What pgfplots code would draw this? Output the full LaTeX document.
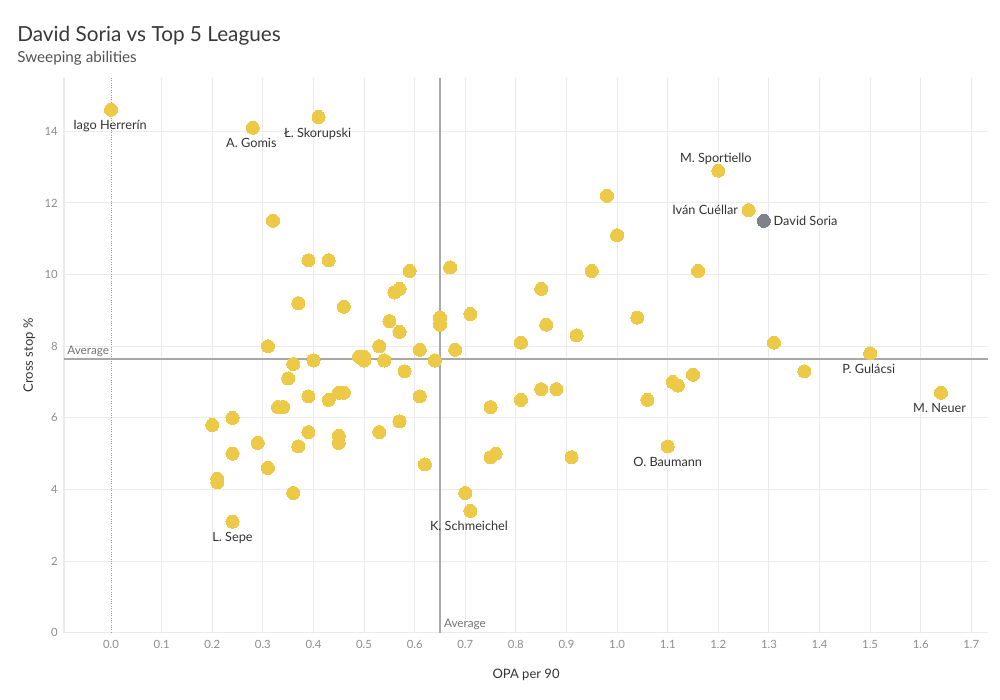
\documentclass[border=0pt]{standalone}
\usepackage{pgfplots}
\pgfplotsset{compat=1.18}
\usepackage{pgfplotstable}
\usepackage{fontspec}
\setmainfont{Lato}

\definecolor{gold}{HTML}{EDC948}
\definecolor{soria}{HTML}{7F8389}
\definecolor{gridc}{HTML}{EBEBEB}
\definecolor{avgc}{HTML}{A8A8A8}
\definecolor{tickc}{HTML}{8C8C8C}
\definecolor{txt}{HTML}{333333}

% goalkeepers in the top 5 leagues
\pgfplotstableread{
x y
0.00 14.6
0.28 14.1
0.41 14.4
0.32 11.5
0.39 10.4
0.43 10.4
0.59 10.1
0.67 10.2
0.56 9.5
0.57 9.6
0.37 9.2
0.46 9.1
0.65 8.8
0.65 8.6
0.71 8.9
0.55 8.7
0.57 8.4
0.31 8.0
0.53 8.0
0.61 7.9
0.68 7.9
0.36 7.5
0.40 7.6
0.49 7.7
0.50 7.7
0.50 7.6
0.54 7.6
0.64 7.6
0.58 7.3
0.35 7.1
0.39 6.6
0.43 6.5
0.45 6.7
0.46 6.7
0.61 6.6
0.33 6.3
0.34 6.3
0.24 6.0
0.20 5.8
0.29 5.3
0.39 5.6
0.37 5.2
0.45 5.5
0.45 5.3
0.53 5.6
0.57 5.9
0.24 5.0
0.31 4.6
0.21 4.3
0.21 4.2
0.62 4.7
0.36 3.9
0.24 3.1
0.70 3.9
0.71 3.4
0.85 9.6
0.86 8.6
0.92 8.3
0.81 8.1
1.04 8.8
0.85 6.8
0.88 6.8
0.81 6.5
0.75 6.3
0.75 4.9
0.76 5.0
0.91 4.9
1.20 12.9
0.98 12.2
1.26 11.8
1.00 11.1
0.95 10.1
1.16 10.1
1.15 7.2
1.11 7.0
1.12 6.9
1.06 6.5
1.10 5.2
1.37 7.3
1.50 7.8
1.64 6.7
1.31 8.1
}\others

\pgfplotstableread{
x y
1.29 11.5
}\soria

\begin{document}
\begin{tikzpicture}
\begin{axis}[
  at={(0,0)}, anchor=south west,
  scale only axis, width=665.3bp, height=399.4bp,
  xmin=-0.093, xmax=1.733, ymin=0, ymax=15.49,
  axis x line*=bottom, axis y line*=left,
  axis line style={gridc, line width=0.8bp},
  major tick length=0pt,
  xtick={0.1,0.2,0.3,0.4,0.5,0.6,0.7,0.8,0.9,1.0,1.1,1.2,1.3,1.4,1.5,1.6,1.7},
  extra x ticks={0},
  extra x tick style={grid style={densely dotted, color=black!40, line width=0.6bp}},
  ytick={0,2,4,6,8,10,12,14},
  grid=major,
  grid style={gridc, line width=0.7bp},
  /pgf/number format/assume math mode=true,
  xticklabel style={font=\fontsize{8.2}{9}\selectfont, text=tickc,
    /pgf/number format/fixed, /pgf/number format/fixed zerofill,
    /pgf/number format/precision=1, yshift=-2bp},
  yticklabel style={font=\fontsize{8.2}{9}\selectfont, text=tickc, xshift=-1bp},
  xlabel={OPA per 90},
  ylabel={Cross stop \%},
  xlabel style={font=\fontsize{9.4}{10}\selectfont, text=txt, yshift=-8bp},
  ylabel style={font=\fontsize{9.4}{10}\selectfont, text=txt, yshift=0bp},
  clip=false,
]
% average lines
\addplot[avgc, line width=1.4bp] coordinates {(-0.093,7.64) (1.733,7.64)};
\addplot[avgc, line width=1.4bp] coordinates {(0.65,0) (0.65,15.49)};
\node[anchor=base west, text=black!55, font=\fontsize{8.5}{9}\selectfont, inner sep=0pt,
  xshift=2.2bp, yshift=3.6bp] at (axis cs:-0.093,7.64) {Average};
\node[anchor=base west, text=black!55, font=\fontsize{8.5}{9}\selectfont, inner sep=0pt,
  xshift=2.7bp, yshift=3.9bp] at (axis cs:0.65,0) {Average};

\addplot[only marks, mark=*, mark size=4.7bp, mark options={draw=gold, fill=gold, line width=0pt}] table {\others};
\addplot[only marks, mark=*, mark size=4.7bp, mark options={draw=soria, fill=soria, line width=0pt}] table {\soria};

% player labels
\begin{scope}[every node/.style={text=txt, font=\fontsize{9.2}{10}\selectfont, inner sep=0pt}]
\node[anchor=base, yshift=-14.4bp, xshift=-0.7bp] at (axis cs:0.00,14.6) {Iago Herrerín};
\node[anchor=base, yshift=-14.4bp, xshift=-1bp] at (axis cs:0.28,14.1) {A. Gomis};
\node[anchor=base, yshift=-14.4bp, xshift=-0.7bp] at (axis cs:0.41,14.4) {Ł. Skorupski};
\node[anchor=base, yshift=6bp, xshift=-1.8bp] at (axis cs:1.20,12.9) {M. Sportiello};
\node[anchor=base east, yshift=-2.9bp, xshift=-7.5bp] at (axis cs:1.26,11.8) {Iván Cuéllar};
\node[anchor=base west, yshift=-3.4bp, xshift=6.9bp] at (axis cs:1.29,11.5) {David Soria};
\node[anchor=base, yshift=-14.4bp, xshift=-1bp] at (axis cs:1.50,7.8) {P. Gulácsi};
\node[anchor=base, yshift=-14.4bp, xshift=-1bp] at (axis cs:1.64,6.7) {M. Neuer};
\node[anchor=base, yshift=-14.4bp] at (axis cs:1.10,5.2) {O. Baumann};
\node[anchor=base, yshift=-14.4bp, xshift=-1bp] at (axis cs:0.71,3.4) {K. Schmeichel};
\node[anchor=base, yshift=-14.4bp] at (axis cs:0.24,3.1) {L. Sepe};
\end{scope}
\end{axis}
% titles
\node[anchor=base west, inner sep=0pt, text=black!78, font=\fontsize{15}{18}\selectfont] at (-33.8bp,426bp) {David Soria vs Top 5 Leagues};
\node[anchor=base west, inner sep=0pt, text=black!68, font=\fontsize{11}{13}\selectfont] at (-33.8bp,410.5bp) {Sweeping abilities};
\pgfresetboundingbox
\path[use as bounding box] (-46.08bp,-48.46bp) rectangle (673.92bp,455.54bp);
\end{tikzpicture}
\end{document}
